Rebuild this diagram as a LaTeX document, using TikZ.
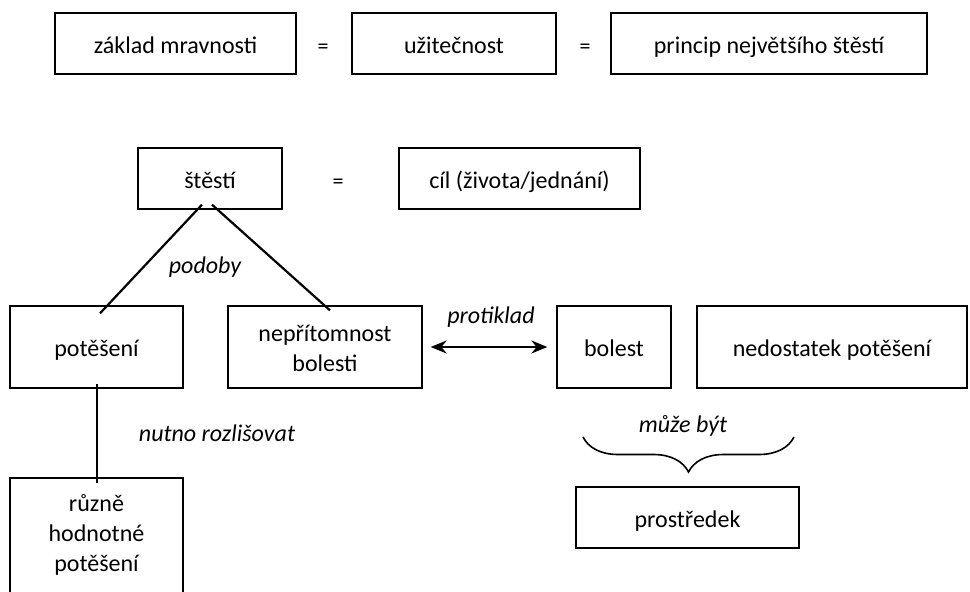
\documentclass[tikz,border=0pt]{standalone}
\usepackage{fontspec}
\setmainfont{Carlito}
\usetikzlibrary{arrows.meta,decorations.pathreplacing,calc}
% struts fixing the height of the first and the depth of the last line
\newcommand\tallst{\rule{0pt}{24pt}}
\newcommand\deepst{\rule[-5pt]{0pt}{5pt}}
\newcommand\deeperst{\rule[-19pt]{0pt}{19pt}}
\begin{document}
\begin{tikzpicture}[x=1pt,y=-1pt,
  box/.style={draw, line width=1.3pt, inner sep=0pt, align=center,
    font=\fontsize{24}{30}\selectfont},
  eqsign/.style={inner sep=0pt, font=\fontsize{22}{26}\selectfont},
  lbl/.style={anchor=base, font=\fontsize{24}{28}\selectfont\itshape},
  link/.style={line width=2.2pt},
  both/.style={line width=2.2pt, {Stealth[length=16pt,width=13pt]}-{Stealth[length=16pt,width=13pt]}}]
\useasboundingbox (0,0) rectangle (970,592);

% top row
\node[box, minimum width=241pt, minimum height=61pt] (zaklad) at (175.5,43.5) {\tallst základ mravnosti\deepst};
\node[eqsign] (eq1) at (323,49) {=};
\node[box, minimum width=204pt, minimum height=61pt] (uzit) at (454,43.5) {\tallst užitečnost\deepst};
\node[eqsign] (eq2) at (585,49) {=};
\node[box, minimum width=316pt, minimum height=61pt] (princip) at (769,43.5) {\tallst princip největšího štěstí\deepst};

% second row
\node[box, minimum width=144pt, minimum height=61pt] (stesti) at (210,178.5) {\tallst štěstí\deepst};
\node[eqsign] (eq3) at (338,184) {=};
\node[box, minimum width=241pt, minimum height=61pt] (cil) at (519.5,178.5) {\tallst cíl (života/jednání)\deepst};

% third row
\node[box, minimum width=173pt, minimum height=82pt] (poteseni) at (96.5,347) {\tallst potěšení\deepst};
\node[box, minimum width=194pt, minimum height=82pt] (nepritom) at (325,347) {\tallst nepřítomnost\\bolesti\deepst};
\node[box, minimum width=114pt, minimum height=82pt] (bolest) at (614,347) {\tallst bolest\deepst};
\node[box, minimum width=270pt, minimum height=82pt] (nedost) at (832,347) {\tallst nedostatek potěšení\deepst};

% bottom row
\node[box, minimum width=173pt, minimum height=122pt] (ruzne) at (96.5,539) {\tallst různě\\hodnotné\\potěšení\deeperst};
\node[box, minimum width=223pt, minimum height=61pt] (prostr) at (687.5,517.5) {\tallst prostředek\deepst};

% connectors
\draw[link] ([xshift=-8pt,yshift=5pt]stesti.south) -- ([xshift=3.5pt,yshift=-8pt]poteseni.north);
\draw[link] ([xshift=2pt,yshift=5pt]stesti.south) -- ([xshift=5pt,yshift=-5pt]nepritom.north);
\node[lbl] (podoby) at (205,273) {podoby};

\draw[link] ([xshift=0.5pt,yshift=5pt]poteseni.south) -- ([xshift=0.5pt,yshift=-6pt]ruzne.north);
\node[lbl] (rozlis) at (217,441) {nutno rozlišovat};

\draw[both] ([xshift=8pt]nepritom.east) -- ([xshift=-9pt]bolest.west);
\node[lbl] (protiklad) at (491,323) {protiklad};

% brace over the means
\coordinate (brL) at (583,437);
\coordinate (brR) at (794,437);
\draw[line width=1.6pt, decorate, decoration={brace, mirror, amplitude=35pt}] (brL) -- (brR);
\node[lbl] (muze) at (683,432) {může být};
\end{tikzpicture}
\end{document}
